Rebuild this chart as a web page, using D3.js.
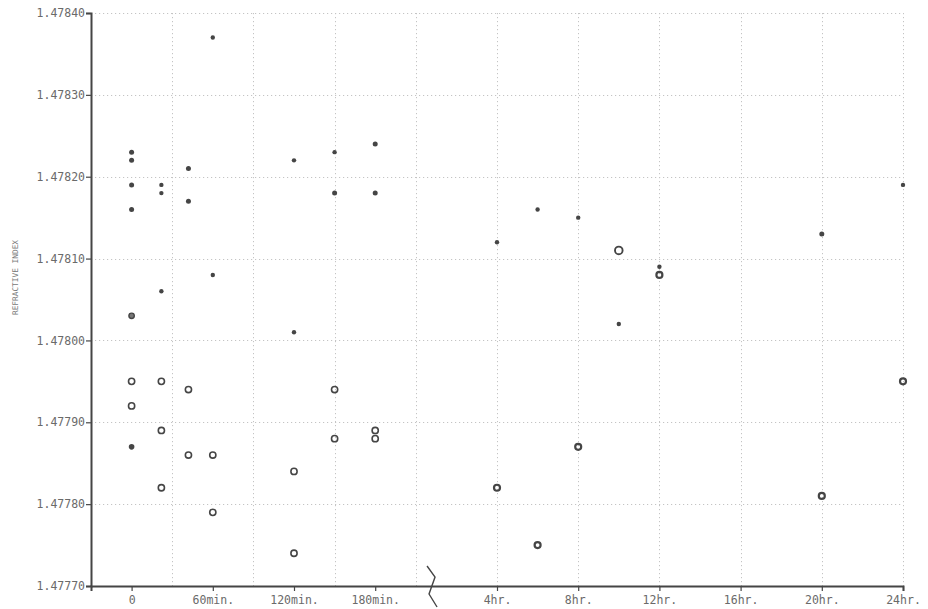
<!DOCTYPE html>
<html>
<head>
<meta charset="utf-8">
<script src="https://cdn.jsdelivr.net/npm/d3@7"></script>
<style>
  html, body { margin: 0; padding: 0; background: #fff; }
  svg { display: block; }
  text { font-family: "DejaVu Sans Mono", "Liberation Mono", monospace; }
</style>
</head>
<body>
<svg id="chart" width="928" height="609"></svg>
<script>
// ---------- data ----------
const yTickValues = [1.4777, 1.4778, 1.4779, 1.4780, 1.4781, 1.4782, 1.4783, 1.4784];

const xTickLabels = ["0", "60min.", "120min.", "180min.", "4hr.", "8hr.", "12hr.", "16hr.", "20hr.", "24hr."];
const xTickMinutes = [0, 60, 120, 180];
const xTickHours = [4, 8, 12, 16, 20, 24];

// minute section (time in minutes)
const minTimes = [0, 0, 0, 0, 0, 0, 0, 0,
                  22, 22, 22, 22, 22, 22,
                  42, 42, 42, 42,
                  60, 60, 60, 60,
                  120, 120, 120, 120,
                  150, 150, 150, 150,
                  180, 180, 180, 180];
const minValues = [1.47823, 1.47822, 1.47819, 1.47816, 1.47803, 1.47795, 1.47792, 1.47787,
                   1.47819, 1.47818, 1.47806, 1.47795, 1.47789, 1.47782,
                   1.47821, 1.47817, 1.47794, 1.47786,
                   1.47837, 1.47808, 1.47786, 1.47779,
                   1.47822, 1.47801, 1.47784, 1.47774,
                   1.47823, 1.47818, 1.47794, 1.47788,
                   1.47824, 1.47818, 1.47789, 1.47788];
const minKinds = ["dot", "dot", "dot", "dot", "dotL", "ring", "ring", "dotM",
                  "dotS", "dotS", "dotS", "ring", "ring", "ring",
                  "dot", "dot", "ring", "ring",
                  "dotS", "dotS", "ring", "ring",
                  "dotS", "dotS", "ring", "ring",
                  "dotS", "dot", "ring", "ring",
                  "dot", "dot", "ring", "ring"];

// hour section (time in hours)
const hrTimes = [4, 4, 6, 6, 8, 8, 10, 10, 12, 12, 20, 20, 24, 24];
const hrValues = [1.47812, 1.47782, 1.47816, 1.47775, 1.47815, 1.47787,
                  1.47811, 1.47802, 1.47809, 1.47808, 1.47813, 1.47781, 1.47819, 1.47795];
const hrKinds = ["dotS", "ringB", "dotS", "ringB", "dotS", "ringB",
                 "ringL", "dotS", "dotS", "ringB", "dot", "ringB", "dotS", "ringB"];

(function () {
// ---------- layout ----------
const svg = d3.select("#chart");
const mLeft = 91, mRight = 903, mTop = 13, mBottom = 586;
const ink = "#454545";

// unit scale: grid cells; minutes occupy 0.5..3.5, hours 5..10
const xu = d3.scaleLinear().domain([0, 10]).range([mLeft, mRight]);
const minToUnit = d3.scaleLinear().domain([0, 60]).range([0.5, 1.5]);
const hrToUnit = d3.scaleLinear().domain([4, 8]).range([5, 6]);
const y = d3.scaleLinear().domain([1.4777, 1.4784]).range([mBottom, mTop]);

const xTickUnits = xTickMinutes.map(minToUnit).concat(xTickHours.map(hrToUnit));

// ---------- grid ----------
const grid = svg.append("g").attr("stroke", "#c4c4c4").attr("stroke-width", 1)
  .attr("stroke-dasharray", "1.2,2.8");
grid.selectAll("line.h").data(yTickValues.slice(1)).join("line")
  .attr("class", "h")
  .attr("x1", mLeft).attr("x2", mRight)
  .attr("y1", d => Math.round(y(d)) + 0.5).attr("y2", d => Math.round(y(d)) + 0.5);
grid.selectAll("line.v").data(d3.range(1, 11)).join("line")
  .attr("class", "v")
  .attr("x1", d => Math.round(xu(d)) + 0.5).attr("x2", d => Math.round(xu(d)) + 0.5)
  .attr("y1", mTop).attr("y2", mBottom);

// ---------- axes ----------
const yAxis = d3.axisLeft(y).tickValues(yTickValues).tickFormat(d3.format(".5f"))
  .tickSize(5).tickPadding(1);
const gy = svg.append("g").attr("transform", `translate(${mLeft},0)`).call(yAxis);
gy.select(".domain").attr("stroke", ink).attr("stroke-width", 2);
gy.selectAll(".tick line").attr("stroke", ink).attr("stroke-width", 1.2);
gy.selectAll(".tick text").attr("fill", "#6a6a6a").style("font-size", "11.5px")
  .style("font-family", "'DejaVu Sans Mono', monospace");

const xAxis = d3.axisBottom(xu).tickValues(xTickUnits)
  .tickFormat((d, i) => xTickLabels[i]).tickSize(5).tickPadding(5);
const gx = svg.append("g").attr("transform", `translate(0,${mBottom})`).call(xAxis);
gx.select(".domain").attr("stroke", ink).attr("stroke-width", 2);
gx.selectAll(".tick line").attr("stroke", ink).attr("stroke-width", 1.2);
gx.selectAll(".tick text").attr("fill", "#6a6a6a").style("font-size", "11.5px")
  .style("font-family", "'DejaVu Sans Mono', monospace");

// axis break symbol
const bx = xu(4.2);
svg.append("path")
  .attr("d", d3.line()([[bx - 5, mBottom - 20], [bx + 3, mBottom - 9], [bx - 3, mBottom + 8], [bx + 5, mBottom + 21]]))
  .attr("fill", "none").attr("stroke", ink).attr("stroke-width", 1.4);

// y label
svg.append("text")
  .attr("transform", `translate(18,${(y(1.4781) + y(1.4780)) / 2 - 22}) rotate(-90)`)
  .attr("text-anchor", "middle")
  .attr("fill", "#777")
  .style("font-size", "7.8px")
  .text("REFRACTIVE INDEX");

// ---------- points ----------
const pts = minTimes.map((t, i) => ({ u: minToUnit(t), v: minValues[i], k: minKinds[i] }))
  .concat(hrTimes.map((t, i) => ({ u: hrToUnit(t), v: hrValues[i], k: hrKinds[i] })));

const style = {
  dot:   { r: 2.5, fill: ink, sw: 0 },
  dotS:  { r: 2.2, fill: ink, sw: 0 },
  dotM:  { r: 2.8, fill: ink, sw: 0 },
  dotL:  { r: 2.7, fill: "#777", sw: 1.4 },
  ring:  { r: 3.1, fill: "none", sw: 1.6 },
  ringB: { r: 3.0, fill: "none", sw: 2.2 },
  ringL: { r: 3.8, fill: "none", sw: 1.9 }
};

svg.append("g").selectAll("circle").data(pts).join("circle")
  .attr("cx", d => xu(d.u))
  .attr("cy", d => y(d.v))
  .attr("r", d => style[d.k].r)
  .attr("fill", d => style[d.k].fill)
  .attr("stroke", d => style[d.k].sw > 0 ? ink : "none")
  .attr("stroke-width", d => style[d.k].sw);
})();
</script>
</body>
</html>
